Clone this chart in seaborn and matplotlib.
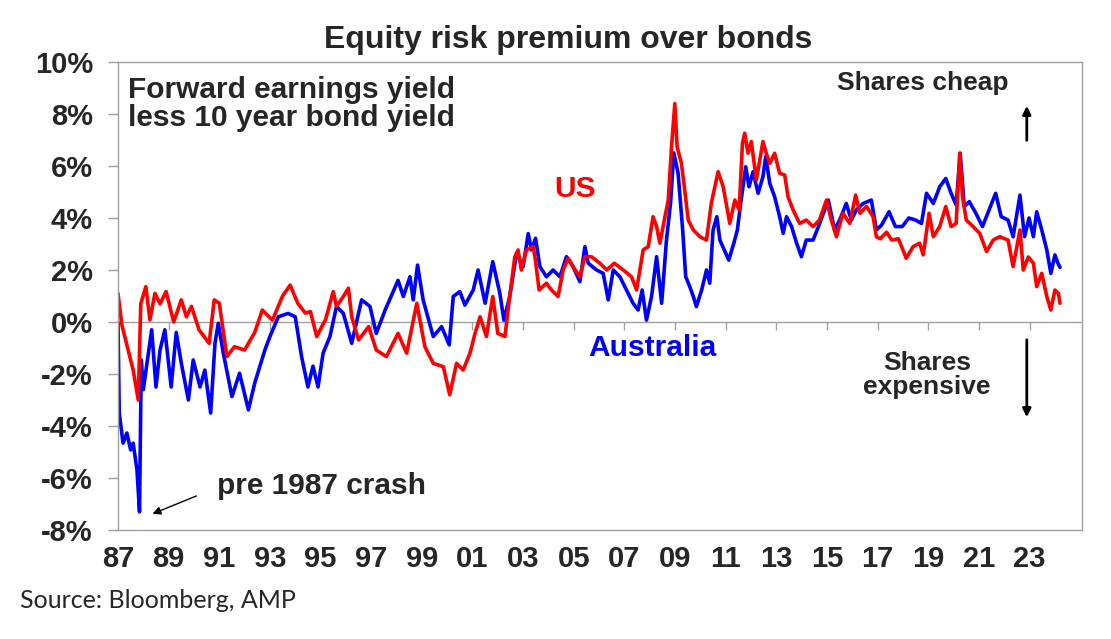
## Equity risk premium over bonds (US vs Australia)

import pandas as pd
import matplotlib
matplotlib.use("Agg")
import matplotlib.pyplot as plt
import seaborn as sns

# =========================
# Datos
# =========================

us_years = [
    1987.0, 1987.15, 1987.4, 1987.6, 1987.8, 1987.9, 1988.1, 1988.26, 1988.46, 1988.66,
    1988.9, 1989.2, 1989.5, 1989.7, 1989.9, 1990.2, 1990.6, 1990.8, 1991.0, 1991.3,
    1991.6, 1992.0, 1992.4, 1992.7, 1993.1, 1993.5, 1993.8, 1994.1, 1994.4, 1994.6,
    1994.85, 1995.2, 1995.5, 1995.63, 1995.9, 1996.1, 1996.23, 1996.5, 1996.9, 1997.2,
    1997.6, 1998.06, 1998.4, 1998.8, 1999.12, 1999.45, 1999.85, 2000.1, 2000.37, 2000.63,
    2000.9, 2001.1, 2001.3, 2001.55, 2001.8, 2002.0, 2002.28, 2002.47, 2002.67, 2002.8,
    2002.93, 2003.13, 2003.4, 2003.5, 2003.63, 2003.92, 2004.12, 2004.38, 2004.58, 2004.78,
    2004.97, 2005.24, 2005.44, 2005.7, 2006.03, 2006.3, 2006.6, 2006.95, 2007.28, 2007.48,
    2007.74, 2007.94, 2008.13, 2008.27, 2008.4, 2008.6, 2008.73, 2008.86, 2008.99, 2009.08,
    2009.25, 2009.38, 2009.52, 2009.72, 2009.98, 2010.24, 2010.43, 2010.7, 2010.9, 2011.16,
    2011.36, 2011.53, 2011.66, 2011.75, 2011.88, 2012.01, 2012.21, 2012.47, 2012.6, 2012.74,
    2012.93, 2013.13, 2013.33, 2013.46, 2013.66, 2013.92, 2014.18, 2014.45, 2014.7, 2014.98,
    2015.17, 2015.37, 2015.63, 2015.9, 2016.13, 2016.3, 2016.56, 2016.82, 2016.95, 2017.1,
    2017.35, 2017.56, 2017.82, 2018.13, 2018.4, 2018.66, 2018.8, 2019.03, 2019.2, 2019.45,
    2019.69, 2019.9, 2020.1, 2020.24, 2020.35, 2020.5, 2020.77, 2021.03, 2021.3, 2021.56,
    2021.82, 2022.15, 2022.35, 2022.62, 2022.75, 2022.95, 2023.15, 2023.28, 2023.48, 2023.68,
    2023.84, 2024.0, 2024.14, 2024.2,
]
us_values = [
    1.1, -0.1, -1.08, -1.85, -3.0, 0.7, 1.36, 0.08, 1.1, 0.7,
    1.17, 0.0, 0.85, 0.2, 0.6, -0.3, -0.82, 0.85, 0.72, -1.33,
    -0.95, -1.08, -0.4, 0.46, 0.07, 1.0, 1.42, 0.72, 0.34, 0.4,
    -0.56, 0.1, 1.17, 0.6, 0.98, 1.3, 0.2, -0.69, -0.18, -1.08,
    -1.33, -0.44, -1.2, 0.72, -0.95, -1.59, -1.72, -2.8, -1.59, -1.85,
    -1.2, -0.44, 0.2, -0.56, 0.98, -0.44, -0.56, 0.98, 2.5, 2.77,
    2.0, 2.77, 2.9, 2.26, 1.23, 1.49, 1.23, 0.98, 2.0, 2.45,
    2.13, 1.74, 2.51, 2.51, 2.26, 2.0, 2.26, 2.0, 1.74, 1.23,
    2.77, 2.9, 4.05, 3.67, 3.03, 4.05, 4.69, 6.74, 8.4, 6.74,
    6.1, 5.08, 3.92, 3.54, 3.28, 3.15, 4.56, 5.78, 5.2, 3.79,
    4.69, 4.31, 6.87, 7.26, 6.49, 6.94, 5.46, 6.94, 6.49, 6.1,
    6.49, 5.72, 5.65, 4.82, 4.31, 3.79, 3.92, 3.67, 3.92, 4.69,
    3.92, 3.28, 4.18, 3.79, 4.88, 4.18, 4.44, 4.05, 3.28, 3.2,
    3.45, 3.15, 3.2, 2.45, 2.9, 3.03, 2.58, 4.18, 3.28, 3.67,
    4.44, 3.67, 3.79, 6.49, 4.82, 3.92, 3.67, 3.41, 2.71, 3.15,
    3.28, 3.15, 2.13, 3.54, 2.0, 2.5, 2.26, 1.36, 1.87, 0.98,
    0.46, 1.23, 1.1, 0.72,
]

aus_years = [
    1987.0, 1987.05, 1987.2, 1987.35, 1987.5, 1987.6, 1987.75, 1987.85, 1987.92, 1988.0,
    1988.13, 1988.33, 1988.5, 1988.66, 1988.85, 1989.1, 1989.3, 1989.5, 1989.78, 1989.97,
    1990.24, 1990.43, 1990.66, 1990.83, 1990.96, 1991.16, 1991.5, 1991.8, 1992.15, 1992.4,
    1992.8, 1993.0, 1993.33, 1993.72, 1994.0, 1994.25, 1994.5, 1994.7, 1994.9, 1995.1,
    1995.37, 1995.63, 1995.9, 1996.23, 1996.62, 1996.95, 1997.2, 1997.55, 1998.06, 1998.27,
    1998.53, 1998.66, 1998.83, 1999.05, 1999.45, 1999.78, 2000.08, 2000.24, 2000.5, 2000.7,
    2001.03, 2001.22, 2001.5, 2001.8, 2002.08, 2002.24, 2002.47, 2002.74, 2003.0, 2003.2,
    2003.33, 2003.49, 2003.66, 2003.92, 2004.18, 2004.45, 2004.71, 2004.97, 2005.24, 2005.44,
    2005.57, 2005.9, 2006.16, 2006.36, 2006.56, 2006.82, 2007.08, 2007.34, 2007.54, 2007.7,
    2007.87, 2008.07, 2008.27, 2008.47, 2008.66, 2008.82, 2008.95, 2009.12, 2009.3, 2009.42,
    2009.58, 2009.72, 2009.84, 2010.05, 2010.24, 2010.37, 2010.5, 2010.65, 2010.77, 2011.12,
    2011.32, 2011.46, 2011.59, 2011.79, 2011.92, 2012.08, 2012.28, 2012.47, 2012.58, 2012.74,
    2012.93, 2013.13, 2013.27, 2013.4, 2013.6, 2013.8, 2013.99, 2014.18, 2014.45, 2014.71,
    2015.05, 2015.3, 2015.5, 2015.76, 2015.96, 2016.16, 2016.43, 2016.75, 2016.95, 2017.15,
    2017.45, 2017.7, 2017.97, 2018.23, 2018.5, 2018.73, 2018.93, 2019.2, 2019.45, 2019.69,
    2019.9, 2020.1, 2020.26, 2020.42, 2020.62, 2020.88, 2021.14, 2021.4, 2021.66, 2021.88,
    2022.15, 2022.35, 2022.62, 2022.8, 2022.98, 2023.15, 2023.28, 2023.48, 2023.68, 2023.84,
    2024.0, 2024.12, 2024.2,
]
aus_values = [
    0.0, -3.5, -4.66, -4.27, -4.92, -4.66, -5.7, -7.3, -1.46, -2.6,
    -1.7, -0.3, -2.5, -1.08, -0.3, -2.5, -0.4, -1.58, -3.0, -1.46,
    -2.5, -1.85, -3.5, -0.82, -0.05, -1.2, -2.87, -1.97, -3.38, -2.35,
    -1.08, -0.56, 0.2, 0.33, 0.2, -1.33, -2.5, -1.7, -2.5, -1.2,
    -0.56, 0.6, 0.33, -0.82, 0.85, 0.6, -0.44, 0.46, 1.6, 0.98,
    1.74, 0.85, 2.19, 0.85, -0.56, -0.18, -0.88, 0.98, 1.17, 0.65,
    1.23, 2.0, 0.72, 2.32, 1.1, 0.07, 0.98, 2.64, 2.13, 3.4,
    2.77, 3.22, 2.13, 1.74, 2.0, 1.74, 2.51, 2.13, 1.55, 2.9,
    2.26, 2.0, 1.87, 0.85, 2.0, 1.74, 1.23, 0.72, 0.46, 1.23,
    0.07, 0.98, 2.51, 0.72, 3.15, 4.56, 6.5, 5.72, 3.54, 1.74,
    1.36, 0.98, 0.59, 1.23, 2.0, 1.49, 3.54, 4.05, 3.15, 2.38,
    3.03, 3.54, 4.56, 5.97, 5.2, 5.78, 4.95, 5.59, 6.36, 5.33,
    4.82, 4.05, 3.41, 4.05, 3.67, 3.03, 2.51, 3.15, 3.15, 3.79,
    4.69, 3.54, 3.92, 4.56, 3.92, 4.31, 4.56, 4.69, 3.54, 3.72,
    4.24, 3.67, 3.67, 4.0, 3.92, 3.79, 4.95, 4.56, 5.2, 5.52,
    4.95, 4.5, 6.49, 4.44, 4.63, 4.18, 3.67, 4.31, 4.95, 4.05,
    3.92, 3.28, 4.88, 3.28, 4.0, 3.28, 4.24, 3.54, 2.77, 1.87,
    2.58, 2.26, 2.1,
]

tick_years = list(range(1987, 2024, 2))
tick_labels = [f"{y % 100:02d}" for y in tick_years]
y_ticks = list(range(-8, 11, 2))
y_labels = [f"{v}%" for v in y_ticks]

GREY = "#a0a0a0"

# =========================
# Figura
# =========================

sns.set_style("white")
plt.rcParams['font.family'] = ['Liberation Sans', 'DejaVu Sans']

fig = plt.figure(figsize=(11.11, 6.39), dpi=100)
ax = fig.add_axes([0.1062, 0.1706, 0.8677, 0.7324])

df = pd.concat([
    pd.DataFrame({'year': aus_years, 'value': aus_values, 'series': 'Australia'}),
    pd.DataFrame({'year': us_years, 'value': us_values, 'series': 'US'}),
], ignore_index=True)

sns.lineplot(data=df, x='year', y='value', hue='series',
             palette={'Australia': '#0000FF', 'US': '#FF0000'},
             estimator=None, sort=False, legend=False, linewidth=2.6, ax=ax)

ax.set_xlim(1987, 2025.07)
ax.set_ylim(-8, 10)
ax.set_xlabel("")
ax.set_ylabel("")

# Marco gris y línea de cero con sus marcas
for s in ax.spines.values():
    s.set_color(GREY)
    s.set_linewidth(1)
ax.axhline(0, color=GREY, lw=1, zorder=1)
ax.vlines(tick_years, -0.31, 0, color=GREY, lw=1, zorder=1)

ax.set_xticks(tick_years, tick_labels)
ax.set_yticks(y_ticks, y_labels)
ax.tick_params(axis='x', length=0, pad=11, labelsize=21)
ax.tick_params(axis='y', length=7, width=1, color=GREY, direction='out',
               pad=11, labelsize=21, left=True)
for lab in ax.get_xticklabels() + ax.get_yticklabels():
    lab.set_fontweight('bold')

# =========================
# Textos y flechas
# =========================

ax.text(1987.39, 9.45, "Forward earnings yield\nless 10 year bond yield",
        ha='left', va='top', fontsize=21.5, fontweight='bold', linespacing=1.0)
ax.text(2005.04, 5.12, "US", color='#FF0000', ha='center', va='center',
        fontsize=21.5, fontweight='bold')
ax.text(2008.12, -1.0, "Australia", color='#0000FF', ha='center', va='center',
        fontsize=21.5, fontweight='bold')
ax.text(2018.78, 9.19, "Shares cheap", ha='center', va='center',
        fontsize=19, fontweight='bold')
ax.text(2018.94, -2.04, "Shares\nexpensive", ha='center', va='center',
        fontsize=19, fontweight='bold', linespacing=1.0)
ax.text(1990.91, -6.31, "pre 1987 crash", ha='left', va='center',
        fontsize=21.5, fontweight='bold')

arrow_kw = dict(arrowstyle='-|>', color='black', lw=2, mutation_scale=12)
ax.annotate("", xy=(2022.89, 8.42), xytext=(2022.89, 6.88), arrowprops=arrow_kw)
ax.annotate("", xy=(2022.89, -3.77), xytext=(2022.89, -0.58), arrowprops=arrow_kw)
ax.annotate("", xy=(1988.26, -7.42), xytext=(1990.2, -6.65),
            arrowprops=dict(arrowstyle='-|>', color='black', lw=1, mutation_scale=12))

fig.text(568 / 1111, 1 - 40 / 639, "Equity risk premium over bonds",
         ha='center', va='center', fontsize=23, fontweight='bold')
fig.text(20 / 1111, 1 - 601 / 639, "Source: Bloomberg, AMP",
         ha='left', va='center', fontsize=18, family=['Lato', 'DejaVu Sans'])

fig.savefig("out.png", dpi=100)
